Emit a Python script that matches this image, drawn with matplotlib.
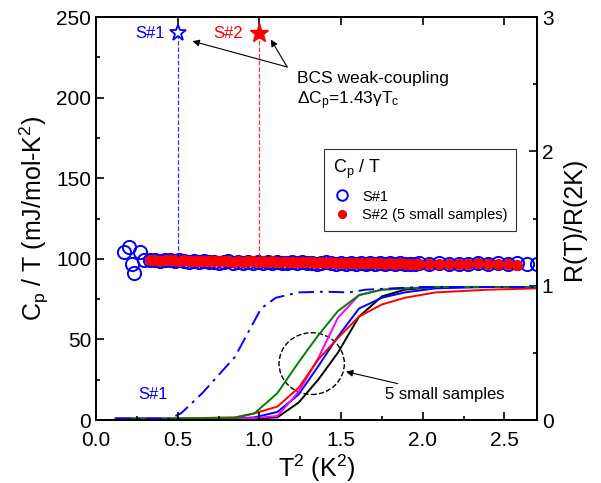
import numpy as np
import matplotlib
matplotlib.use('Agg')
import matplotlib.pyplot as plt
from matplotlib.patches import Ellipse
from matplotlib.ticker import MultipleLocator

plt.rcParams['font.family'] = ['Liberation Sans', 'DejaVu Sans']

# C_p/T data, sample S#1 (open circles)
s1_x = [0.17, 0.20, 0.22, 0.23, 0.27, 0.29,
        0.33, 0.36, 0.39, 0.42, 0.45, 0.48, 0.51, 0.54, 0.57, 0.60,
        0.63, 0.66, 0.69, 0.72, 0.75, 0.78, 0.81, 0.84, 0.87, 0.90,
        0.93, 0.96, 0.99, 1.02, 1.05, 1.08, 1.11, 1.14, 1.17, 1.20,
        1.23, 1.26, 1.29, 1.32, 1.35, 1.38, 1.41, 1.44, 1.47, 1.50,
        1.53, 1.56, 1.59, 1.62, 1.65, 1.68, 1.71, 1.74, 1.77, 1.80,
        1.83, 1.86, 1.89, 1.92, 1.95, 1.98,
        2.04, 2.10, 2.16, 2.22, 2.28, 2.34, 2.40, 2.46, 2.52, 2.58, 2.64,
        2.70]
s1_cp = [104.0, 107.5, 97.0, 91.5, 104.0, 99.5,
         99.5, 99.0, 98.5, 99.2, 99.0, 98.6, 99.3, 98.8, 98.2, 98.6,
         98.0, 98.4, 97.8, 98.3, 97.6, 98.1, 98.5, 97.7, 98.0, 97.4,
         98.2, 97.6, 98.0, 97.3, 97.9, 97.5, 98.1, 97.2, 97.7, 97.9,
         97.3, 97.8, 97.1, 97.6, 97.0, 97.5, 97.9, 97.2, 96.8, 97.4,
         97.0, 97.5, 96.9, 97.3, 96.7, 97.2, 96.8, 97.4, 96.6, 97.1,
         96.8, 97.3, 96.5, 97.0, 96.7, 97.2,
         96.9, 97.3, 96.5, 97.0, 96.8, 97.4, 96.6, 97.1, 96.9, 97.2, 96.6,
         97.0]

# C_p/T data, sample S#2 (filled dots)
s2_x = [0.33, 0.36, 0.39, 0.42, 0.45, 0.48, 0.51, 0.54, 0.57, 0.60,
        0.63, 0.66, 0.69, 0.72, 0.75, 0.78, 0.81, 0.84, 0.87, 0.90,
        0.93, 0.96, 0.99, 1.02, 1.05, 1.08, 1.11, 1.14, 1.17, 1.20,
        1.23, 1.26, 1.29, 1.32, 1.35, 1.38, 1.41, 1.44, 1.47, 1.50,
        1.53, 1.56, 1.59, 1.62, 1.65, 1.68, 1.71, 1.74, 1.77, 1.80,
        1.83, 1.86, 1.89, 1.92, 1.95, 1.98,
        2.04, 2.10, 2.16, 2.22, 2.28, 2.34, 2.40, 2.46, 2.52, 2.58]
s2_cp = [99.0, 99.2, 98.9, 99.1, 99.3, 99.0, 98.8, 99.1, 98.9, 98.7,
         98.9, 98.6, 98.8, 98.5, 98.7, 98.4, 98.6, 98.3, 98.5, 98.2,
         98.4, 98.6, 98.3, 98.5, 98.2, 98.4, 98.1, 98.3, 98.0, 98.2,
         97.9, 98.1, 97.8, 98.0, 97.7, 97.9, 97.6, 97.8, 97.5, 97.7,
         97.4, 97.6, 97.3, 97.5, 97.2, 97.4, 97.1, 97.3, 97.0, 97.2,
         96.9, 97.1, 96.8, 97.0, 96.7, 96.9,
         96.8, 97.0, 96.6, 96.9, 96.7, 97.1, 96.5, 96.8, 96.6, 96.4]

# BCS weak-coupling estimates (stars)
bcs_x = [0.5, 1.0]
bcs_cp = 240
bcs_floor = 101

# normalized resistance, S#1 (dash-dot)
r1_x = [0.12, 0.45, 0.52, 0.65, 0.85, 1.01, 1.10, 1.24, 1.40, 1.55, 1.65, 1.81, 2.00, 2.70]
r1 = [0.01, 0.01, 0.05, 0.20, 0.47, 0.83, 0.91, 0.95, 0.955, 0.95, 0.97, 0.98, 0.99, 0.99]

# normalized resistance, 5 small samples
rs_x = [0.12, 0.45, 0.85, 0.97, 1.11, 1.24, 1.36, 1.48, 1.61, 1.75, 1.89, 2.08, 2.40, 2.70]
r_green = [0.01, 0.01, 0.015, 0.05, 0.20, 0.43, 0.63, 0.81, 0.93, 0.97, 0.98, 0.99, 0.99, 0.99]
r_red = [0.01, 0.01, 0.02, 0.05, 0.10, 0.24, 0.45, 0.61, 0.77, 0.86, 0.91, 0.95, 0.97, 0.98]
r_magenta = [0.01, 0.01, 0.01, 0.015, 0.03, 0.21, 0.46, 0.76, 0.93, 0.97, 0.98, 0.99, 0.99, 0.99]
r_blue = [0.01, 0.01, 0.01, 0.02, 0.06, 0.19, 0.40, 0.62, 0.83, 0.91, 0.95, 0.98, 0.99, 0.99]
r_black = [0.01, 0.01, 0.01, 0.01, 0.02, 0.13, 0.30, 0.50, 0.77, 0.92, 0.97, 0.99, 0.99, 0.99]

fig = plt.figure(figsize=(6.01, 4.83), dpi=100)
ax = fig.add_axes([0.16, 0.1304, 0.7335, 0.8344])
ax2 = ax.twinx()

# resistance curves on the right axis
ax2.plot(rs_x, r_black, color='black', lw=1.4)
ax2.plot(rs_x, r_blue, color='blue', lw=1.4)
ax2.plot(rs_x, r_magenta, color='magenta', lw=1.4)
ax2.plot(rs_x, r_red, color='red', lw=1.4)
ax2.plot(rs_x, r_green, color='green', lw=1.4)
ax2.plot(r1_x, r1, color='blue', ls=(0, (8, 3, 1.5, 3)), lw=1.4)
ax2.add_patch(Ellipse((1.32, 0.42), 0.40, 0.46, fill=False, ls='--', lw=1.0, color='black'))
ax2.annotate('5 small samples', xy=(1.53, 0.36), xytext=(1.77, 0.19),
             fontsize=12, ha='left', va='center',
             arrowprops=dict(arrowstyle='-|>', lw=0.8, color='black', mutation_scale=10,
                             shrinkA=2, shrinkB=0))
ax2.text(0.35, 0.19, 'S#1', color='blue', fontsize=12, ha='center', va='center')
ax2.set_ylim(0, 3)
ax2.yaxis.set_major_locator(MultipleLocator(1))
ax2.yaxis.set_minor_locator(MultipleLocator(0.5))
ax2.set_ylabel('R(T)/R(2K)', fontsize=18, labelpad=6)

# Cp/T on the left axis, drawn on top
ax.set_zorder(ax2.get_zorder() + 1)
ax.patch.set_visible(False)
ax.plot(s1_x, s1_cp, 'o', mfc='none', mec='blue', mew=1.4, ms=9.5, label='S#1')
ax.plot(s2_x, s2_cp, 'o', color='red', ms=7, label='S#2 (5 small samples)')

ax.plot([bcs_x[0], bcs_x[0]], [bcs_floor, bcs_cp], color='blue', ls='--', lw=0.9, alpha=0.8)
ax.plot([bcs_x[1], bcs_x[1]], [bcs_floor, bcs_cp], color='red', ls='--', lw=0.9, alpha=0.8)
ax.plot(bcs_x[0], bcs_cp, '*', mfc='white', mec='blue', mew=1.3, ms=12, zorder=5)
ax.plot(bcs_x[1], bcs_cp, '*', color='red', ms=14, zorder=5)
ax.text(0.33, bcs_cp, 'S#1', color='blue', fontsize=12, ha='center', va='center')
ax.text(0.81, bcs_cp, 'S#2', color='red', fontsize=12, ha='center', va='center')

ax.text(1.23, 212, 'BCS weak-coupling', fontsize=12.5, ha='left', va='center')
ax.text(1.23, 198, r'$\mathregular{\Delta C_p}$=1.43$\mathregular{\gamma T_c}$',
        fontsize=12.5, ha='left', va='center')
arrow = dict(arrowstyle='-|>', lw=0.8, color='black', mutation_scale=10, shrinkA=0, shrinkB=0)
ax.annotate('', xy=(0.59, 235), xytext=(1.17, 219), arrowprops=arrow)
ax.annotate('', xy=(1.07, 236), xytext=(1.17, 219), arrowprops=arrow)

ax.set_xlim(0, 2.7)
ax.set_ylim(0, 250)
ax.xaxis.set_major_locator(MultipleLocator(0.5))
ax.xaxis.set_minor_locator(MultipleLocator(0.25))
ax.yaxis.set_major_locator(MultipleLocator(50))
ax.yaxis.set_minor_locator(MultipleLocator(25))
ax.xaxis.set_major_formatter(matplotlib.ticker.FormatStrFormatter('%.1f'))
ax.set_xlabel(r'$\mathregular{T^2}$ ($\mathregular{K^2}$)', fontsize=18, labelpad=2)
ax.set_ylabel(r'$\mathregular{C_p}$ / T (mJ/mol-$\mathregular{K^2}$)', fontsize=18, labelpad=4)

for a in (ax, ax2):
    for s in a.spines.values():
        s.set_linewidth(1.3)
ax.tick_params(which='both', direction='in', top=True, labelsize=15, width=1.2)
ax.tick_params(which='major', length=6)
ax.tick_params(which='minor', length=3, top=False)
ax.tick_params(axis='x', which='major', pad=8)
ax2.tick_params(which='both', direction='in', labelsize=15, width=1.2)
ax2.tick_params(which='major', length=6)
ax2.tick_params(which='minor', length=3)

leg = ax.legend(loc='upper left', bbox_to_anchor=(0.501, 0.69), title=r'$\mathregular{C_p}$ / T',
                fontsize=10.5, title_fontsize=13, frameon=True, fancybox=False,
                edgecolor='black', markerscale=0.8, handlelength=1.2,
                borderpad=0.6, labelspacing=0.3, alignment='left')
leg.get_frame().set_linewidth(0.8)
leg._legend_box.sep = 6

fig.savefig('out.png', dpi=100)
